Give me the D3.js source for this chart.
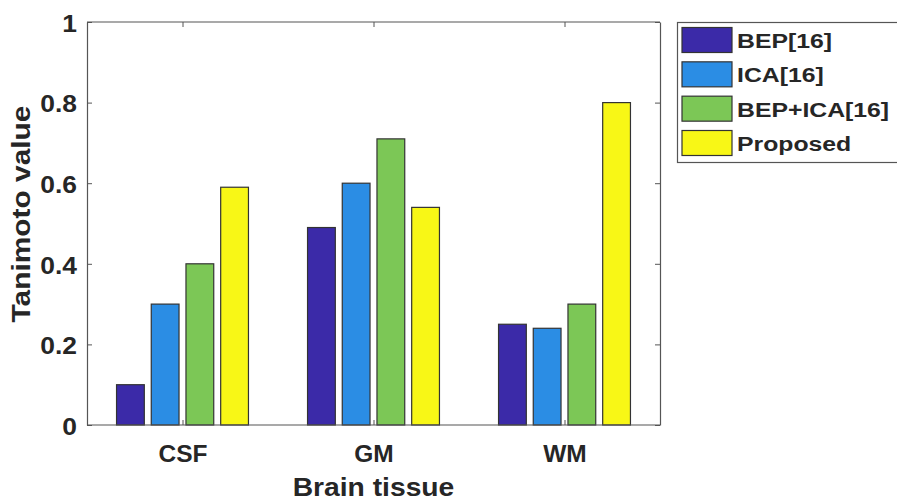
<!DOCTYPE html>
<html>
<head>
<meta charset="utf-8">
<script src="https://cdn.jsdelivr.net/npm/d3@7"></script>
<style>
  html, body { margin:0; padding:0; background:#fff; }
  svg { display:block; font-family:"Liberation Sans", Arial, sans-serif; font-weight:bold; }
</style>
</head>
<body>
<svg id="chart" width="897" height="501"></svg>
<script>
const categories = ["CSF", "GM", "WM"]
const seriesNames = ["BEP[16]", "ICA[16]", "BEP+ICA[16]", "Proposed"]
const bepValues = [0.10, 0.49, 0.25]
const icaValues = [0.30, 0.60, 0.24]
const bepIcaValues = [0.40, 0.71, 0.30]
const proposedValues = [0.59, 0.54, 0.80]
const yTicks = [0, 0.2, 0.4, 0.6, 0.8, 1]
const seriesColors = ["#3b2aa8", "#2b8de4", "#7cc756", "#f8f716"]

const seriesValues = [bepValues, icaValues, bepIcaValues, proposedValues]

const svg = d3.select("#chart")
const plotLeft = 87, plotRight = 660, plotTop = 22, plotBottom = 425
const textColor = "#262626"
const axisColor = "#555"

const x0 = d3.scaleBand().domain(categories).range([plotLeft, plotRight])
  .paddingInner(0.273).paddingOuter(0.1365)
const x1 = d3.scaleBand().domain(seriesNames).range([0, x0.bandwidth()])
  .paddingInner(0.2).paddingOuter(0.1)
const y = d3.scaleLinear().domain([0, 1]).range([plotBottom, plotTop])

// bars
const groups = svg.append("g").selectAll("g")
  .data(categories).enter().append("g")
  .attr("transform", d => `translate(${x0(d)},0)`)

groups.selectAll("rect")
  .data((c, i) => seriesNames.map((s, j) => ({series: s, value: seriesValues[j][i], idx: j})))
  .enter().append("rect")
  .attr("x", d => x1(d.series))
  .attr("width", x1.bandwidth())
  .attr("y", d => y(d.value))
  .attr("height", d => y(0) - y(d.value))
  .attr("fill", d => seriesColors[d.idx])
  .attr("stroke", "#333")
  .attr("stroke-width", 1.2)

// axes
function styleAxis(g) {
  g.select(".domain").attr("stroke", axisColor).attr("stroke-width", 1.2)
  g.selectAll(".tick line").attr("stroke", axisColor)
}

const catCenter = d => x0(d) + x0.bandwidth() / 2
const xCenters = d3.scalePoint().domain(categories).range([catCenter("CSF"), catCenter("WM")])

const yAxis = svg.append("g").attr("transform", `translate(${plotLeft},0)`)
  .call(d3.axisLeft(y).tickValues(yTicks).tickSizeInner(-5).tickSizeOuter(0)
    .tickFormat(d => d === 0 || d === 1 ? d3.format("d")(d) : d3.format(".1f")(d)))
styleAxis(yAxis)
yAxis.selectAll(".tick text")
  .attr("fill", textColor)
  .attr("font-size", 24)
  .attr("font-family", "Liberation Sans, Arial, sans-serif")
  .attr("font-weight", "bold")
  .attr("x", null).attr("dy", null)
  .attr("transform", "translate(-10,3) scale(1.1,1)")
  .attr("dominant-baseline", "middle")

const yAxisR = svg.append("g").attr("transform", `translate(${plotRight},0)`)
  .call(d3.axisRight(y).tickValues(yTicks).tickSizeInner(-5).tickSizeOuter(0).tickFormat(""))
styleAxis(yAxisR)

const xAxis = svg.append("g").attr("transform", `translate(0,${plotBottom})`)
  .call(d3.axisBottom(xCenters).tickSizeInner(-5).tickSizeOuter(0))
styleAxis(xAxis)
xAxis.select(".domain").attr("d", `M${plotLeft},0H${plotRight}`)
xAxis.selectAll(".tick text")
  .attr("fill", textColor)
  .attr("font-size", 24)
  .attr("font-family", "Liberation Sans, Arial, sans-serif")
  .attr("font-weight", "bold")
  .attr("y", null).attr("dy", null)
  .attr("transform", "translate(0,37) scale(1.02,1)")

const xAxisTop = svg.append("g").attr("transform", `translate(0,${plotTop})`)
  .call(d3.axisTop(xCenters).tickSizeInner(-5).tickSizeOuter(0).tickFormat(""))
styleAxis(xAxisTop)
xAxisTop.select(".domain").attr("d", `M${plotLeft},0H${plotRight}`)

// axis titles
svg.append("text")
  .attr("transform", `translate(${(plotLeft + plotRight) / 2},496) scale(1.13,1)`)
  .attr("text-anchor", "middle")
  .attr("font-size", 25)
  .attr("fill", textColor)
  .text("Brain tissue")

svg.append("text")
  .attr("transform", "translate(30,214) rotate(-90) scale(1.15,1)")
  .attr("text-anchor", "middle")
  .attr("font-size", 26)
  .attr("fill", textColor)
  .text("Tanimoto value")

// legend
const legend = svg.append("g")
legend.append("rect")
  .attr("x", 677.5).attr("y", 22.5)
  .attr("width", 240).attr("height", 140)
  .attr("fill", "#fff").attr("stroke", axisColor).attr("stroke-width", 1.2)

const rowY = d3.scaleLinear().domain([0, 3]).range([40, 143])
seriesNames.forEach((s, i) => {
  legend.append("rect")
    .attr("x", 682).attr("y", rowY(i) - 12.5)
    .attr("width", 50).attr("height", 25)
    .attr("fill", seriesColors[i])
    .attr("stroke", "#333").attr("stroke-width", 1.2)
  legend.append("text")
    .attr("transform", `translate(737,${rowY(i) + 8}) scale(1.18,1)`)
    .attr("font-size", 21)
    .attr("fill", textColor)
    .text(s)
})
</script>
</body>
</html>
